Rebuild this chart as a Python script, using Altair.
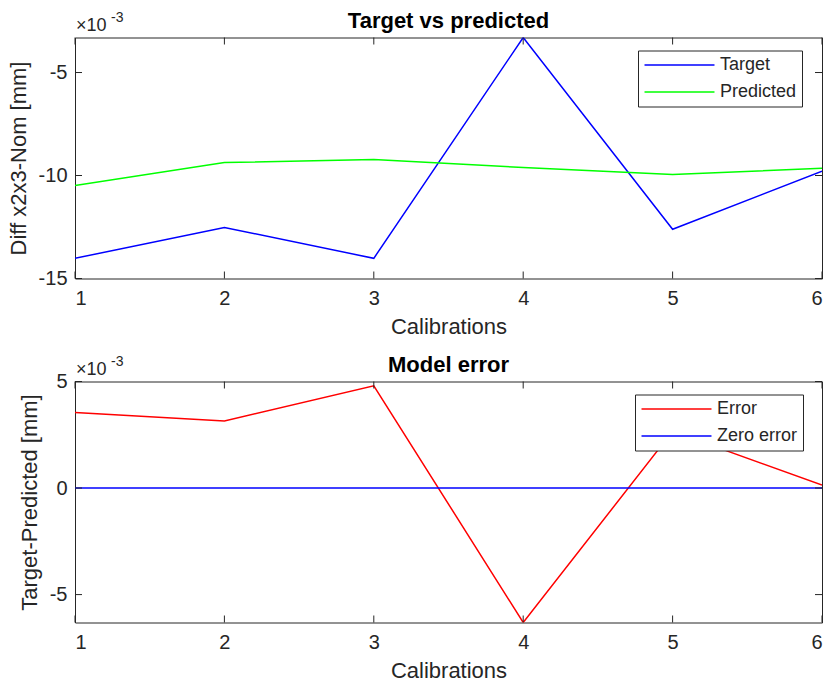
import altair as alt
import pandas as pd

# Calibration runs (x axis)
calibrations = [1, 2, 3, 4, 5, 6]

# Values are in units of 1e-3 mm (axis shows a x10^-3 multiplier)
target = [-14.02, -12.52, -14.02, -3.30, -12.61, -9.79]
predicted = [-10.48, -9.37, -9.22, -9.61, -9.95, -9.65]
model_error = [3.54, 3.15, 4.80, -6.31, 2.66, 0.14]
zero_error = [0, 0, 0, 0, 0, 0]

x_ticks = [1, 2, 3, 4, 5, 6]
top_y_ticks = [-15, -10, -5]
bottom_y_ticks = [-5, 0, 5]
top_y_domain = [-15, -3.30]
bottom_y_domain = [-6.31, 5]

W, H = 747, 241
FONT = "Liberation Sans"
AX = "#262626"
TICK = 7


def long_form(names, series):
    rows = []
    for name, vals in zip(names, series):
        for c, v in zip(calibrations, vals):
            rows.append({"cal": c, "val": v, "series": name})
    return pd.DataFrame(rows)


def text_layer(txt, x, y, size, weight="normal", align="left", color=AX):
    return alt.Chart(pd.DataFrame({"t": [txt]})).mark_text(
        align=align, baseline="alphabetic", font=FONT, fontSize=size, fontWeight=weight, color=color
    ).encode(x=alt.value(x), y=alt.value(y), text="t:N")


def panel(title, names, series, colors, y_title, y_domain, y_ticks, legend_x, legend_y):
    x_scale = alt.Scale(domain=[1, 6], nice=False, zero=False)
    y_scale = alt.Scale(domain=y_domain, nice=False, zero=False)
    x_axis = alt.Axis(values=x_ticks, title="Calibrations", ticks=False, domain=False,
                      grid=False, format="d", labelPadding=10, titlePadding=8)
    y_axis = alt.Axis(values=y_ticks, title=y_title, ticks=False, domain=False, grid=False,
                      labelPadding=8, titlePadding=8,
                      labelExpr="datum.value < 0 ? '-' + abs(datum.value) : '' + datum.value")

    lines = alt.Chart(long_form(names, series)).mark_line(strokeWidth=1.5, clip=True).encode(
        x=alt.X("cal:Q", scale=x_scale, axis=x_axis),
        y=alt.Y("val:Q", scale=y_scale, axis=y_axis),
        color=alt.Color("series:N", sort=names,
                        scale=alt.Scale(domain=names, range=colors),
                        legend=alt.Legend(title=None, orient="none", legendX=legend_x, legendY=legend_y,
                                          direction="vertical", symbolType="M-4,0H4", symbolSize=306,
                                          symbolStrokeWidth=1.5, symbolOffset=27, labelOffset=31,
                                          labelFontSize=18, labelFont=FONT, labelColor=AX,
                                          strokeColor=AX, fillColor="white", padding=5,
                                          rowPadding=8, labelLimit=300)),
    )

    # MATLAB-style inward ticks on all four sides of the box
    xt = pd.DataFrame({"cal": x_ticks})
    yt = pd.DataFrame({"val": y_ticks})
    rule = dict(color=AX, strokeWidth=1)
    bx = alt.X("cal:Q", scale=x_scale, axis=x_axis)
    by = alt.Y("val:Q", scale=y_scale, axis=y_axis)
    bottom_ticks = alt.Chart(xt).mark_rule(**rule).encode(x=bx, y=alt.value(H), y2=alt.value(H - TICK))
    top_ticks = alt.Chart(xt).mark_rule(**rule).encode(x=bx, y=alt.value(0), y2=alt.value(TICK))
    left_ticks = alt.Chart(yt).mark_rule(**rule).encode(y=by, x=alt.value(0), x2=alt.value(TICK))
    right_ticks = alt.Chart(yt).mark_rule(**rule).encode(y=by, x=alt.value(W), x2=alt.value(W - TICK))

    title_txt = text_layer(title, W / 2, -10, 22, weight="bold", align="center", color="black")
    base = text_layer("×10", 1, -7, 18)
    expo = text_layer("-3", 36, -16, 14)

    return alt.layer(lines, bottom_ticks, top_ticks, left_ticks, right_ticks,
                     title_txt, base, expo).properties(width=W, height=H)


top = panel("Target vs predicted", ["Target", "Predicted"], [target, predicted],
            ["#0000ff", "#00ff00"], "Diff x2x3-Nom [mm]", top_y_domain, top_y_ticks, 563, 13)
bottom = panel("Model error", ["Error", "Zero error"], [model_error, zero_error],
               ["#ff0000", "#0000ff"], "Target-Predicted [mm]", bottom_y_domain, bottom_y_ticks, 560, 13)

chart = alt.vconcat(top, bottom, spacing=14).resolve_scale(color="independent").configure(
    padding={"left": 6, "top": 8.5, "right": 0, "bottom": 0},
    background="white",
).configure_view(stroke=AX, strokeWidth=1).configure_axis(
    labelFont=FONT, labelFontSize=20, labelColor=AX,
    titleFont=FONT, titleFontSize=22, titleColor=AX, titleFontWeight="normal",
)

chart.save("out.html", embed_options={"renderer": "svg", "actions": False})
